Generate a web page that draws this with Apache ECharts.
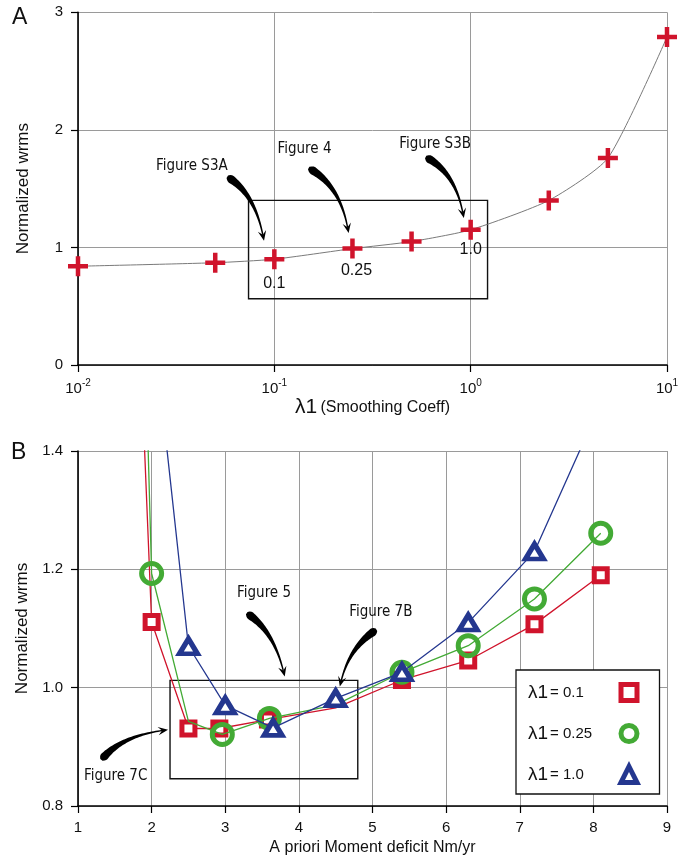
<!DOCTYPE html>
<html><head><meta charset="utf-8">
<script src="https://cdn.jsdelivr.net/npm/echarts@6/dist/echarts.min.js"></script>
<style>html,body{margin:0;padding:0;background:#fff}#c{width:692px;height:865px}</style>
</head><body><div id="c"></div>
<script>
// ---------- Panel A data ----------
const lambdaValues = [0.01, 0.05, 0.1, 0.25, 0.5, 1.0, 2.5, 5, 10];
const wrmsA = [0.84, 0.87, 0.90, 0.99, 1.05, 1.15, 1.40, 1.76, 2.79];
const yTicksA = [0, 1, 2, 3];

// ---------- Panel B data ----------
const seriesNames = ['λ1= 0.1', 'λ1= 0.25', 'λ1= 1.0'];
const momentRed = [1.8, 2.0, 2.5, 2.92, 3.58, 4.5, 5.4, 6.3, 7.2, 8.1];
const wrmsRed = [1.72, 1.111, 0.931, 0.931, 0.946, 0.966, 1.013, 1.046, 1.107, 1.190];
const noMarkRed = [0, 5];
const momentGreen = [1.8, 2.0, 2.5, 2.96, 3.6, 4.5, 5.4, 6.3, 7.2, 8.1];
const wrmsGreen = [2.08, 1.193, 0.943, 0.921, 0.948, 0.971, 1.026, 1.071, 1.150, 1.261];
const noMarkGreen = [0, 2, 5];
const momentBlue = [2.0, 2.5, 3.0, 3.65, 4.5, 5.4, 6.3, 7.2, 8.1];
const wrmsBlue = [1.64, 1.070, 0.970, 0.932, 0.982, 1.026, 1.110, 1.230, 1.48];
const noMarkBlue = [0];

// ---------- annotations (data coords) ----------
const annotA = [
  {text: 'Figure S3A', at: [0.038, 1.695]},
  {text: 'Figure 4', at: [0.1425, 1.834]},
  {text: 'Figure S3B', at: [0.659, 1.877]}
];
const valueLabelsA = [
  {text: '0.1', at: [0.1, 0.695]},
  {text: '0.25', at: [0.262, 0.802]},
  {text: '1.0', at: [1.0, 0.978]}
];
const arrowsA = [
  [[0.0576, 1.601], [0.0790, 1.463], [0.0886, 1.057]],
  [[0.1496, 1.675], [0.215, 1.53], [0.239, 1.122]],
  [[0.590, 1.769], [0.83, 1.64], [0.923, 1.25]]
];
const boxA = [[0.0739, 1.40], [1.219, 0.564]];

const annotB = [
  {text: 'Figure 5', at: [3.527, 1.160]},
  {text: 'Figure 7B', at: [5.113, 1.128]},
  {text: 'Figure 7C', at: [1.512, 0.851]}
];
const arrowsB = [
  [[3.292, 1.126], [3.65, 1.097], [3.808, 1.019]],
  [[5.054, 1.098], [4.69, 1.069], [4.556, 1.002]],
  [[1.318, 0.878], [1.567, 0.917], [2.223, 0.929]]
];
const boxB = [[2.25, 1.0124], [4.80, 0.846]];

const RED = '#d0142c', GREEN = '#43aa35', BLUE = '#24378f';
const FONT = "'Liberation Sans', Arial, sans-serif";
const NARROW = "'Liberation Sans Narrow', 'DejaVu Sans Condensed', 'Liberation Sans', sans-serif";

function pts(xs, ys, hidden) {
  return xs.map((x, i) => hidden.indexOf(i) >= 0 ? {value: [x, ys[i]], symbol: 'none'} : [x, ys[i]]);
}

const axisLine = {show: true, lineStyle: {color: '#000', width: 1.6}};
const axisTick = {show: true, inside: false, length: 7, lineStyle: {color: '#000', width: 1.2}};
const splitLine = {show: true, lineStyle: {color: '#9a9a9a', width: 1}};
const labelStyle = {color: '#111', fontFamily: FONT, fontSize: 15};

const chart = echarts.init(document.getElementById('c'), null, {renderer: 'canvas'});

const option = {
  animation: false,
  backgroundColor: '#fff',
  grid: [
    {left: 78, right: 25, top: 12.3, height: 352.7},
    {left: 78, right: 25, top: 451, height: 355}
  ],
  xAxis: [
    {
      type: 'log', logBase: 10, min: 0.01, max: 10, gridIndex: 0,
      axisLine, axisTick, splitLine, minorTick: {show: false},
      axisLabel: {
        margin: 13, color: '#111',
        formatter: v => '{b|10}{s|' + Math.round(Math.log10(v)) + '}',
        rich: {
          b: {fontFamily: FONT, fontSize: 15, lineHeight: 18, verticalAlign: 'bottom', color: '#111'},
          s: {fontFamily: FONT, fontSize: 10, lineHeight: 10, verticalAlign: 'top', color: '#111'}
        }
      },
      name: '{l|λ1} {t|(Smoothing Coeff)}', nameLocation: 'middle', nameGap: 32,
      nameTextStyle: {
        rich: {
          l: {fontFamily: FONT, fontSize: 21, color: '#111'},
          t: {fontFamily: FONT, fontSize: 16, color: '#111'}
        }
      }
    },
    {
      type: 'value', min: 1, max: 9, interval: 1, gridIndex: 1,
      axisLine, axisTick, splitLine,
      axisLabel: Object.assign({margin: 14}, labelStyle),
      name: 'A priori Moment deficit Nm/yr', nameLocation: 'middle', nameGap: 34,
      nameTextStyle: {fontFamily: FONT, fontSize: 16, color: '#111'}
    }
  ],
  yAxis: [
    {
      type: 'value', min: 0, max: 3, interval: 1, gridIndex: 0,
      axisLine, axisTick, splitLine,
      axisLabel: Object.assign({margin: 15}, labelStyle),
      name: 'Normalized wrms', nameLocation: 'middle', nameGap: 46,
      nameTextStyle: {fontFamily: FONT, fontSize: 17, color: '#111'}
    },
    {
      type: 'value', min: 0.8, max: 1.4, interval: 0.2, gridIndex: 1,
      axisLine, axisTick, splitLine,
      axisLabel: Object.assign({margin: 15, formatter: v => v.toFixed(1)}, labelStyle),
      name: 'Normalized wrms', nameLocation: 'middle', nameGap: 46,
      nameTextStyle: {fontFamily: FONT, fontSize: 17, color: '#111'}
    }
  ],
  legend: {
    orient: 'vertical', left: 516, top: 670,
    padding: [12, 20, 9, 12], itemGap: 20, itemWidth: 16, itemHeight: 16,
    align: 'right', borderColor: '#111', borderWidth: 1.3, backgroundColor: '#fff',
    selectedMode: false,
    formatter: name => '{l|λ1}{t|' + name.slice(2) + '}',
    textStyle: {
      rich: {
        l: {fontFamily: FONT, fontSize: 19, lineHeight: 22, width: 22, align: 'left', color: '#111'},
        t: {fontFamily: FONT, fontSize: 15, lineHeight: 22, width: 66, align: 'left', color: '#111'}
      }
    },
    data: [
      {name: seriesNames[0], icon: 'rect', itemStyle: {color: '#fff', borderColor: RED, borderWidth: 5}},
      {name: seriesNames[1], icon: 'circle', itemStyle: {color: 'rgba(0,0,0,0)', borderColor: GREEN, borderWidth: 5}},
      {name: seriesNames[2], icon: 'triangle', itemStyle: {color: '#fff', borderColor: BLUE, borderWidth: 5}}
    ]
  },
  series: [
    {
      type: 'line', xAxisIndex: 0, yAxisIndex: 0, clip: false,
      data: lambdaValues.map((x, i) => [x, wrmsA[i]]),
      smooth: 0.2,
      lineStyle: {color: '#7a7a7a', width: 1},
      symbol: 'path://M7.75,0H12.25V7.75H20V12.25H12.25V20H7.75V12.25H0V7.75H7.75Z',
      symbolSize: 20, symbolKeepAspect: true,
      itemStyle: {color: RED, borderWidth: 0}, z: 5
    },
    {
      name: seriesNames[0], type: 'line', xAxisIndex: 1, yAxisIndex: 1, clip: true,
      data: pts(momentRed, wrmsRed, noMarkRed),
      lineStyle: {color: RED, width: 1.3},
      symbol: 'rect', symbolSize: 13, showAllSymbol: true,
      itemStyle: {color: '#fff', borderColor: RED, borderWidth: 5}, z: 3
    },
    {
      name: seriesNames[1], type: 'line', xAxisIndex: 1, yAxisIndex: 1, clip: true,
      data: pts(momentGreen, wrmsGreen, noMarkGreen),
      lineStyle: {color: GREEN, width: 1.3},
      symbol: 'circle', symbolSize: 20, showAllSymbol: true,
      itemStyle: {color: 'rgba(0,0,0,0)', borderColor: GREEN, borderWidth: 5}, z: 4
    },
    {
      name: seriesNames[2], type: 'line', xAxisIndex: 1, yAxisIndex: 1, clip: true,
      data: pts(momentBlue, wrmsBlue, noMarkBlue),
      lineStyle: {color: BLUE, width: 1.3},
      symbol: 'triangle', symbolSize: [18, 15], showAllSymbol: true,
      itemStyle: {color: '#fff', borderColor: BLUE, borderWidth: 5}, z: 5
    }
  ]
};
chart.setOption(option);

// ---------- annotation graphics ----------
function px(grid, p) { return chart.convertToPixel({gridIndex: grid}, p); }

function arrowShapes(p0, c, p1, w0) {
  const dx = p1[0] - c[0], dy = p1[1] - c[1];
  const L = Math.hypot(dx, dy), ux = dx / L, uy = dy / L;
  const headLen = 10, headW = 4.2;
  const q1 = [p1[0] - ux * headLen * 0.6, p1[1] - uy * headLen * 0.6];
  const N = 40, left = [], right = [];
  for (let i = 0; i <= N; i++) {
    const t = i / N, mt = 1 - t;
    const x = mt * mt * p0[0] + 2 * mt * t * c[0] + t * t * q1[0];
    const y = mt * mt * p0[1] + 2 * mt * t * c[1] + t * t * q1[1];
    let tx = 2 * mt * (c[0] - p0[0]) + 2 * t * (q1[0] - c[0]);
    let ty = 2 * mt * (c[1] - p0[1]) + 2 * t * (q1[1] - c[1]);
    const tl = Math.hypot(tx, ty) || 1; tx /= tl; ty /= tl;
    const nx = -ty, ny = tx;
    const start = Math.min(1, Math.sqrt(t / 0.07 + 0.1));
    const w = (0.7 + (w0 - 0.7) * Math.pow(mt, 1.5)) * start;
    left.push([x + nx * w, y + ny * w]);
    right.push([x - nx * w, y - ny * w]);
  }
  const shaft = left.concat(right.reverse());
  const nx = -uy, ny = ux;
  const head = [
    [p1[0], p1[1]],
    [p1[0] - ux * headLen + nx * headW, p1[1] - uy * headLen + ny * headW],
    [p1[0] - ux * headLen * 0.6, p1[1] - uy * headLen * 0.6],
    [p1[0] - ux * headLen - nx * headW, p1[1] - uy * headLen - ny * headW]
  ];
  return [
    {type: 'polygon', shape: {points: shaft}, style: {fill: '#000'}, z: 20},
    {type: 'polygon', shape: {points: head}, style: {fill: '#000'}, z: 20}
  ];
}

function boxShape(grid, b) {
  const a = px(grid, b[0]), c = px(grid, b[1]);
  return {type: 'rect', shape: {x: a[0], y: a[1], width: c[0] - a[0], height: c[1] - a[1]},
          style: {fill: 'none', stroke: '#111', lineWidth: 1.4}, z: 1};
}

function textShape(grid, a, font) {
  const p = px(grid, a.at);
  return {type: 'text', x: p[0], y: p[1], z: 20,
          style: {text: a.text, align: 'center', verticalAlign: 'middle', font: font, fill: '#111'}};
}

const graphics = [];
graphics.push(boxShape(0, boxA), boxShape(1, boxB));
annotA.forEach(a => graphics.push(textShape(0, a, '15px ' + NARROW)));
annotB.forEach(a => graphics.push(textShape(1, a, '15px ' + NARROW)));
valueLabelsA.forEach(a => graphics.push(textShape(0, a, '16px ' + FONT)));
arrowsA.forEach(a => arrowShapes(px(0, a[0]), px(0, a[1]), px(0, a[2]), 4.5).forEach(g => graphics.push(g)));
arrowsB.forEach(a => arrowShapes(px(1, a[0]), px(1, a[1]), px(1, a[2]), 4.5).forEach(g => graphics.push(g)));
graphics.push({type: 'text', left: 12, top: 6, style: {text: 'A', font: '23px ' + FONT, fill: '#111'}, z: 20});
graphics.push({type: 'text', left: 11, top: 441, style: {text: 'B', font: '23px ' + FONT, fill: '#111'}, z: 20});
chart.setOption({graphic: graphics});
</script>
</body></html>
